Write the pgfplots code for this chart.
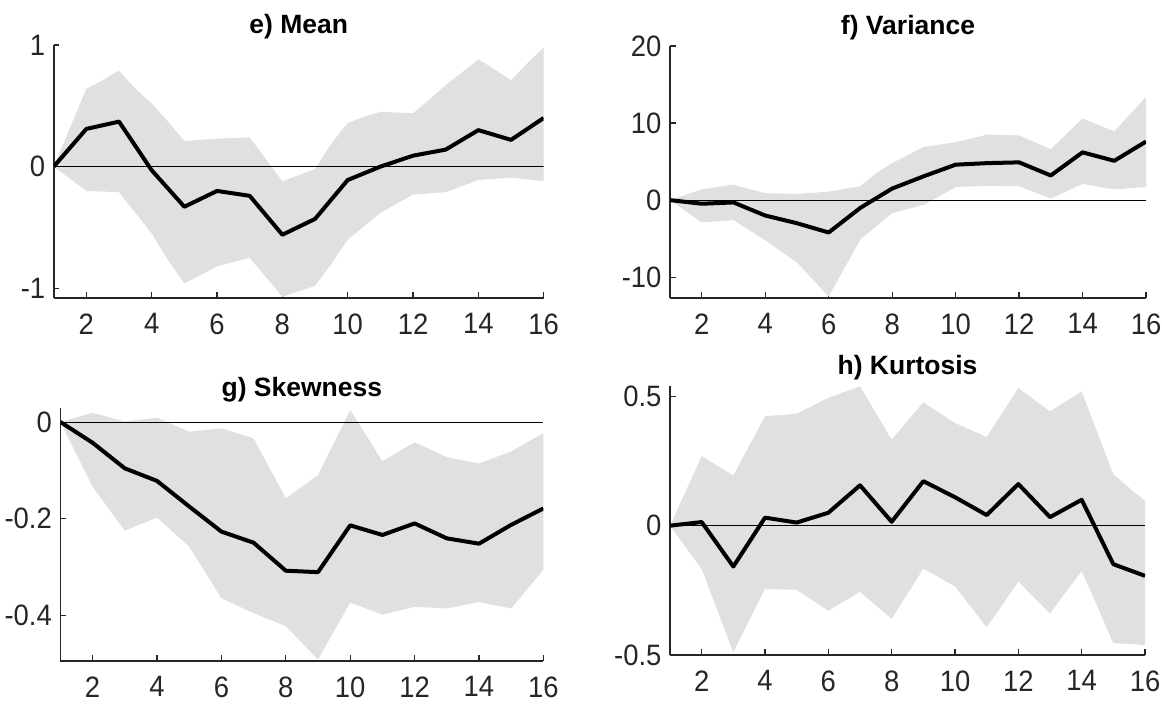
\documentclass[border=0pt]{standalone}
\usepackage{fontspec}
\setmainfont{Liberation Sans}
\newfontfamily\tickfont{Liberation Sans}[FakeStretch=0.93]
\usepackage{pgfplots}
\pgfplotsset{compat=1.18}
\usepgfplotslibrary{fillbetween}
\definecolor{band}{RGB}{224,224,224}
\definecolor{axc}{RGB}{38,38,38}
\pgfplotsset{
  panel/.style={
    scale only axis,
    anchor=south west,
    xmin=1, xmax=16,
    xtick={2,4,...,16},
    axis x line*=bottom, axis y line*=left,
    axis line style={axc, line width=1.6pt},
    tick style={axc, line width=1.2pt},
    tick align=inside,
    major tick length=5.5pt,
    /pgf/number format/assume math mode=true,
    tick label style={font=\tickfont\fontsize{29.5}{29.5}\selectfont, text=axc},
    xticklabel style={yshift=-12pt},
    yticklabel style={xshift=-5pt},
    title style={font=\fontsize{26.5}{26.5}\selectfont\bfseries, anchor=base, yshift=5pt, at={(0.5,1)}},
  },
  bandstyle/.style={fill=band, draw=none},
  mainline/.style={black, line width=4pt, line join=round},
  zeroline/.style={black, line width=0.9pt},
}
\begin{document}
\begin{tikzpicture}

% e) Mean
\begin{axis}[panel, at={(53.7pt,406pt)}, width=490pt, height=253pt,
  ymin=-1.08, ymax=1, ytick={-1,0,1}, yticklabels={-1,0,1}, title={e) Mean}]
\addplot[name path=up, draw=none] coordinates {(1,0) (2,0.64) (2.5,0.71) (3,0.79) (3.5,0.64) (4,0.52) (4.5,0.37) (5,0.21) (6,0.23) (7,0.24) (8,-0.12) (8.5,-0.07) (9,-0.02) (9.5,0.19) (10,0.36) (10.5,0.41) (11,0.45) (12,0.44) (12.5,0.55) (13,0.67) (14,0.88) (14.5,0.80) (15,0.71) (15.5,0.85) (16,0.98)};
\addplot[name path=lo, draw=none] coordinates {(1,0) (1.5,-0.10) (2,-0.20) (3,-0.21) (4,-0.55) (4.5,-0.77) (5,-0.96) (5.5,-0.89) (6,-0.82) (7,-0.75) (7.5,-0.91) (8,-1.07) (9,-0.98) (9.5,-0.80) (10,-0.60) (11,-0.38) (12,-0.23) (13,-0.21) (14,-0.11) (15,-0.09) (16,-0.12)};
\addplot[bandstyle] fill between[of=up and lo];
\addplot[zeroline] coordinates {(1,0) (16,0)};
\addplot[mainline] coordinates {(1,0) (2,0.31) (3,0.37) (4,-0.03) (5,-0.33) (6,-0.20) (7,-0.24) (8,-0.56) (9,-0.43) (10,-0.11) (11,0.0) (12,0.09) (13,0.14) (14,0.30) (15,0.22) (16,0.40)};
\end{axis}

% f) Variance
\begin{axis}[panel, at={(670pt,406pt)}, width=476pt, height=252pt,
  ymin=-12.7, ymax=20, ytick={-10,0,10,20}, yticklabels={-10,0,10,20}, title={f) Variance}]
\addplot[name path=up, draw=none] coordinates {(1,0) (2,1.4) (3,2.0) (4,0.9) (5,0.8) (6,1.1) (7,1.8) (7.5,3.5) (8,4.8) (9,6.9) (10,7.5) (11,8.5) (12,8.4) (13,6.6) (14,10.6) (15,8.9) (16,13.4)};
\addplot[name path=lo, draw=none] coordinates {(1,0) (2,-2.9) (3,-2.6) (4,-5.2) (5,-8.1) (6,-12.5) (7,-5.1) (7.5,-3.4) (8,-1.7) (9,-0.6) (10,1.7) (11,1.85) (12,1.8) (13,0.2) (14,2.1) (15,1.4) (16,1.7)};
\addplot[bandstyle] fill between[of=up and lo];
\addplot[zeroline] coordinates {(1,0) (16,0)};
\addplot[mainline] coordinates {(1,0) (2,-0.47) (3,-0.3) (4,-2.0) (5,-3.0) (6,-4.2) (7,-1.0) (8,1.5) (9,3.1) (10,4.6) (11,4.8) (12,4.9) (13,3.2) (14,6.2) (15,5.1) (16,7.6)};
\end{axis}

% g) Skewness
\begin{axis}[panel, at={(60.4pt,43pt)}, width=483pt, height=253pt,
  ymin=-0.495, ymax=0.029, ytick={-0.4,-0.2,0}, yticklabels={-0.4,-0.2,0}, title={g) Skewness}]
\addplot[name path=up, draw=none] coordinates {(1,0) (2,0.019) (3,0.001) (4,0.009) (5,-0.02) (6,-0.013) (7,-0.034) (8,-0.158) (9,-0.11) (10,0.025) (11,-0.081) (12,-0.042) (13,-0.073) (14,-0.086) (15,-0.061) (16,-0.023)};
\addplot[name path=lo, draw=none] coordinates {(1,0) (2,-0.134) (3,-0.225) (4,-0.198) (5,-0.258) (6,-0.365) (7,-0.396) (8,-0.423) (9,-0.492) (10,-0.374) (11,-0.399) (12,-0.383) (13,-0.386) (14,-0.373) (15,-0.386) (16,-0.306)};
\addplot[bandstyle] fill between[of=up and lo];
\addplot[zeroline] coordinates {(1,0) (16,0)};
\addplot[mainline] coordinates {(1,0) (2,-0.043) (3,-0.096) (4,-0.122) (5,-0.175) (6,-0.227) (7,-0.25) (8,-0.308) (9,-0.311) (10,-0.214) (11,-0.234) (12,-0.21) (13,-0.241) (14,-0.252) (15,-0.213) (16,-0.179)};
\end{axis}

% h) Kurtosis
\begin{axis}[panel, at={(670pt,49pt)}, width=475pt, height=269pt,
  ymin=-0.5, ymax=0.54, ytick={-0.5,0,0.5}, yticklabels={-0.5,0,0.5}, title={h) Kurtosis}]
\addplot[name path=up, draw=none] coordinates {(1,0) (2,0.269) (3,0.194) (4,0.423) (5,0.433) (6,0.494) (7,0.539) (8,0.333) (9,0.477) (10,0.397) (11,0.343) (12,0.532) (13,0.442) (14,0.519) (15,0.198) (16,0.095)};
\addplot[name path=lo, draw=none] coordinates {(1,0) (2,-0.168) (3,-0.49) (4,-0.245) (5,-0.248) (6,-0.329) (7,-0.256) (8,-0.361) (9,-0.166) (10,-0.235) (11,-0.393) (12,-0.217) (13,-0.339) (14,-0.175) (15,-0.454) (16,-0.461)};
\addplot[bandstyle] fill between[of=up and lo];
\addplot[zeroline] coordinates {(1,0) (16,0)};
\addplot[mainline] coordinates {(1,0) (2,0.014) (3,-0.158) (4,0.031) (5,0.012) (6,0.05) (7,0.156) (8,0.015) (9,0.172) (10,0.11) (11,0.041) (12,0.161) (13,0.033) (14,0.10) (15,-0.149) (16,-0.194)};
\end{axis}

\pgfresetboundingbox
\path (0pt,0pt) rectangle (1162pt,704pt);
\end{tikzpicture}
\end{document}
